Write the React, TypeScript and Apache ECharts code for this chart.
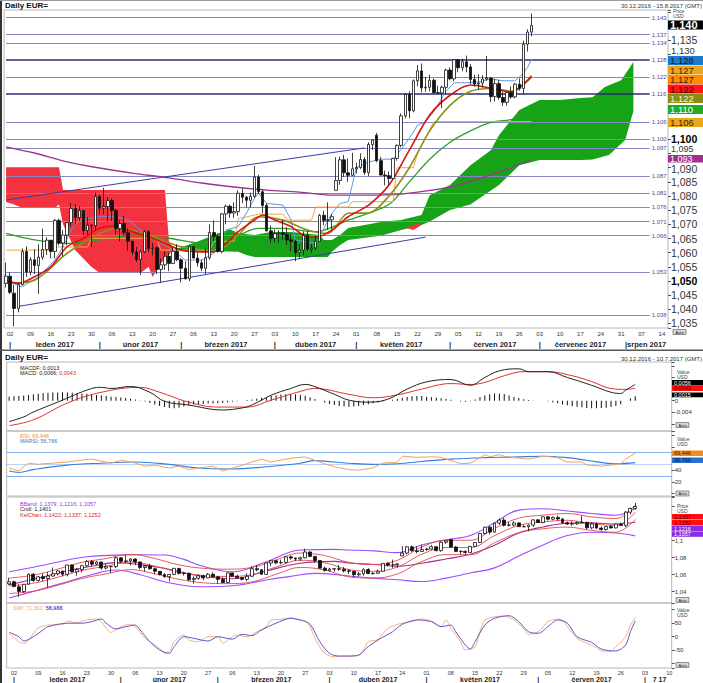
import React, { useEffect, useRef } from "react";
import * as echarts from "echarts";

const FONT = "'Liberation Sans', Arial, sans-serif";

// ---------------- categories ----------------
type Day = { key: string; day: number; month: number; dow: number };
function weekdays(a: number[], b: number[]): Day[] {
  const out: Day[] = [];
  const t = new Date(Date.UTC(a[0], a[1] - 1, a[2]));
  const end = new Date(Date.UTC(b[0], b[1] - 1, b[2]));
  while (t <= end) {
    const dow = t.getUTCDay();
    if (dow !== 0 && dow !== 6) {
      out.push({ key: t.toISOString().slice(0, 10), day: t.getUTCDate(), month: t.getUTCMonth() + 1, dow });
    }
    t.setUTCDate(t.getUTCDate() + 1);
  }
  return out;
}
const mainDays = weekdays([2016, 12, 30], [2017, 8, 15]);
const lowerDays = weekdays([2016, 12, 30], [2017, 7, 10]);
const monthNamesMain: Record<number, string> = { 1: "leden 2017", 2: "únor 2017", 3: "březen 2017", 4: "duben 2017", 5: "květen 2017", 6: "červen 2017", 7: "červenec 2017", 8: "|srpen 2017" };
const monthNamesLower: Record<number, string> = { 1: "leden 2017", 2: "únor 2017", 3: "březen 2017", 4: "duben 2017", 5: "květen 2017", 6: "červen 2017", 7: "7 17" };

// ---------------- price data (EUR=) ----------------
const opens = [1.0492,1.0517,1.0457,1.0403,1.0488,1.0604,1.0532,1.0575,1.0555,1.0584,1.0611,1.0644,1.0604,1.0714,1.0634,1.0662,1.0706,1.0756,1.0724,1.0749,1.0678,1.0697,1.0695,1.0798,1.0757,1.0763,1.0784,1.0749,1.0685,1.0703,1.0670,1.0640,1.0602,1.0576,1.0603,1.0674,1.0615,1.0617,1.0541,1.0557,1.0587,1.0562,1.0605,1.0575,1.0545,1.0508,1.0621,1.0581,1.0564,1.0545,1.0582,1.0671,1.0658,1.0604,1.0737,1.0764,1.0740,1.0745,1.0810,1.0796,1.0785,1.0799,1.0867,1.0815,1.0767,1.0677,1.0651,1.0667,1.0670,1.0664,1.0645,1.0640,1.0600,1.0609,1.0661,1.0613,1.0617,1.0640,1.0732,1.0714,1.0716,1.0820,1.0855,1.0928,1.0882,1.0873,1.0896,1.0901,1.0929,1.0883,1.0982,1.1015,1.0925,1.0874,1.0872,1.0862,1.0933,1.0979,1.1083,1.1159,1.1101,1.1207,1.1242,1.1182,1.1184,1.1209,1.1165,1.1164,1.1184,1.1245,1.1214,1.1281,1.1253,1.1274,1.1256,1.1212,1.1196,1.1199,1.1213,1.1217,1.1151,1.1197,1.1148,1.1131,1.1166,1.1150,1.1195,1.1180,1.1336,1.1379];
const closes = [1.0517,1.0460,1.0403,1.0487,1.0604,1.0532,1.0575,1.0555,1.0584,1.0611,1.0644,1.0604,1.0714,1.0634,1.0662,1.0706,1.0756,1.0724,1.0749,1.0678,1.0697,1.0695,1.0798,1.0757,1.0763,1.0784,1.0749,1.0685,1.0703,1.0670,1.0640,1.0602,1.0576,1.0603,1.0674,1.0615,1.0617,1.0541,1.0557,1.0587,1.0562,1.0605,1.0575,1.0545,1.0508,1.0621,1.0581,1.0564,1.0545,1.0582,1.0671,1.0658,1.0604,1.0737,1.0764,1.0740,1.0745,1.0810,1.0796,1.0785,1.0799,1.0867,1.0815,1.0767,1.0677,1.0651,1.0667,1.0670,1.0664,1.0645,1.0640,1.0600,1.0609,1.0661,1.0613,1.0617,1.0640,1.0732,1.0714,1.0716,1.0727,1.0855,1.0928,1.0882,1.0873,1.0896,1.0901,1.0929,1.0883,1.0982,1.0998,1.0925,1.0874,1.0872,1.0862,1.0933,1.0979,1.1083,1.1159,1.1101,1.1207,1.1242,1.1182,1.1184,1.1209,1.1165,1.1164,1.1184,1.1245,1.1214,1.1281,1.1253,1.1274,1.1256,1.1212,1.1196,1.1199,1.1213,1.1217,1.1151,1.1197,1.1148,1.1131,1.1166,1.1150,1.1195,1.1180,1.1336,1.1379,1.1402];
const lows = [1.0477,1.0454,1.0340,1.0389,1.0484,1.0515,1.0520,1.0525,1.0454,1.0575,1.0592,1.0580,1.0580,1.0626,1.0587,1.0626,1.0693,1.0700,1.0712,1.0660,1.0663,1.0620,1.0677,1.0735,1.0735,1.0710,1.0712,1.0665,1.0640,1.0660,1.0607,1.0592,1.0567,1.0521,1.0598,1.0603,1.0590,1.0524,1.0494,1.0540,1.0535,1.0560,1.0570,1.0495,1.0505,1.0500,1.0580,1.0550,1.0535,1.0525,1.0575,1.0640,1.0600,1.0597,1.0700,1.0723,1.0723,1.0730,1.0775,1.0760,1.0760,1.0794,1.0807,1.0740,1.0675,1.0635,1.0636,1.0636,1.0645,1.0627,1.0605,1.0570,1.0580,1.0590,1.0606,1.0600,1.0610,1.0640,1.0697,1.0681,1.0683,1.0820,1.0840,1.0868,1.0850,1.0870,1.0880,1.0895,1.0875,1.0870,1.0963,1.0919,1.0873,1.0838,1.0838,1.0859,1.0925,1.0972,1.1074,1.1075,1.1096,1.1187,1.1166,1.1168,1.1170,1.1162,1.1160,1.1110,1.1160,1.1209,1.1205,1.1237,1.1241,1.1237,1.1196,1.1187,1.1176,1.1184,1.1206,1.1132,1.1134,1.1140,1.1118,1.1119,1.1144,1.1145,1.1172,1.1160,1.1310,1.1364];
const highs = [1.0565,1.0530,1.0487,1.0492,1.0615,1.0622,1.0585,1.0613,1.0630,1.0685,1.0655,1.0627,1.0719,1.0720,1.0680,1.0708,1.0775,1.0771,1.0763,1.0750,1.0726,1.0700,1.0812,1.0805,1.0829,1.0796,1.0791,1.0755,1.0715,1.0730,1.0684,1.0643,1.0620,1.0610,1.0680,1.0679,1.0635,1.0622,1.0580,1.0605,1.0600,1.0618,1.0630,1.0580,1.0570,1.0625,1.0622,1.0600,1.0575,1.0615,1.0700,1.0714,1.0667,1.0740,1.0770,1.0770,1.0778,1.0820,1.0826,1.0801,1.0812,1.0906,1.0875,1.0823,1.0775,1.0696,1.0682,1.0680,1.0715,1.0690,1.0665,1.0645,1.0630,1.0675,1.0677,1.0630,1.0660,1.0737,1.0748,1.0778,1.0737,1.0937,1.0939,1.0945,1.0933,1.0953,1.0918,1.0951,1.0938,1.0990,1.1000,1.1023,1.0938,1.0890,1.0887,1.0935,1.0982,1.1092,1.1163,1.1170,1.1212,1.1263,1.1268,1.1220,1.1229,1.1215,1.1190,1.1190,1.1250,1.1254,1.1284,1.1283,1.1285,1.1296,1.1266,1.1228,1.1230,1.1227,1.1295,1.1218,1.1213,1.1210,1.1167,1.1168,1.1187,1.1199,1.1215,1.1349,1.1389,1.1445];

// ---------------- main panel overlays ([day index, price]) ----------------
const ma200 = [[0,1.0974],[7,1.0952],[15,1.0921],[23,1.0899],[31,1.0881],[40,1.0864],[48,1.0846],[56,1.0832],[64,1.0821],[72,1.0814],[80,1.0803],[88,1.0803],[97,1.0807],[109,1.0832],[121,1.0885],[129,1.0930]];
const maGreen = [[0,1.0668],[7,1.0645],[15,1.0633],[23,1.0645],[31,1.0662],[40,1.0651],[48,1.0633],[56,1.0656],[62,1.0686],[68,1.0686],[76,1.0674],[84,1.0715],[94,1.0770],[99,1.0850],[104,1.0930],[109,1.0990],[114,1.1030],[119,1.1060],[124,1.1070],[129,1.1100]];
const maRed = [[0,1.0503],[3,1.0492],[7,1.0515],[11,1.0550],[15,1.0621],[19,1.0651],[23,1.0686],[27,1.0694],[31,1.0674],[35,1.0656],[39,1.0633],[43,1.0609],[48,1.0603],[51,1.0603],[54,1.0633],[57,1.0674],[61,1.0715],[63,1.0733],[66,1.0715],[70,1.0692],[73,1.0662],[76,1.0654],[80,1.0680],[84,1.0727],[89,1.0768],[94,1.0839],[99,1.0962],[104,1.1086],[109,1.1156],[114,1.1192],[119,1.1181],[124,1.1167],[129,1.1225]];
const maOlive = [[0,1.0492],[7,1.0503],[15,1.0598],[23,1.0668],[28,1.0686],[35,1.0662],[43,1.0621],[52,1.0609],[57,1.0662],[62,1.0727],[68,1.0715],[74,1.0680],[79,1.0668],[84,1.0739],[89,1.0740],[94,1.0800],[99,1.0900],[104,1.1030],[109,1.1120],[114,1.1170],[119,1.1180],[124,1.1170],[129,1.1220]];
const tenkan = [[0,1.0500],[4,1.0480],[8,1.0515],[12,1.0574],[14,1.0621],[16,1.0680],[18,1.0715],[23,1.0727],[27,1.0727],[30,1.0715],[34,1.0668],[41,1.0609],[44,1.0574],[48,1.0574],[51,1.0598],[54,1.0680],[57,1.0692],[59,1.0739],[61,1.0792],[62,1.0810],[64,1.0774],[68,1.0768],[70,1.0715],[71,1.0645],[76,1.0633],[80,1.0739],[82,1.0774],[84,1.0780],[86,1.0900],[89,1.0920],[92,1.0930],[95,1.0930],[97,1.0965],[99,1.1004],[101,1.1050],[103,1.1063],[105,1.1097],[108,1.1170],[110,1.1200],[113,1.1200],[116,1.1203],[119,1.1214],[122,1.1207],[125,1.1207],[127,1.1234],[128,1.1254],[129,1.1282]];
const kijunLine = [[0,1.0609],[11,1.0609],[12,1.0620],[20,1.0620],[21,1.0651],[37,1.0651],[38,1.0609],[50,1.0609],[51,1.0640],[56,1.0640],[57,1.0720],[62,1.0736],[68,1.0736],[69,1.0715],[75,1.0715],[76,1.0761],[84,1.0761],[85,1.0780],[95,1.0780],[96,1.0900],[100,1.0900],[101,1.0950],[105,1.1063],[129,1.1063]];

// Ichimoku cloud outlines
const redCloudTop = [[0,1.0902],[13,1.0902],[14,1.0821],[39,1.0821],[40,1.0640],[41,1.0615]];
const redCloudBottom = [[0,1.0779],[2,1.0770],[4,1.0758],[12,1.0758],[13,1.0770],[14,1.0700],[17,1.0609],[21,1.0549],[23,1.0528],[33,1.0528],[35,1.0549],[36,1.0514],[38,1.0563],[40,1.0592],[41,1.0615]];
const greenCloudTop = [[41,1.0609],[46,1.0634],[48,1.0645],[51,1.0662],[55,1.0683],[57,1.0669],[61,1.0662],[65,1.0673],[70,1.0673],[77,1.0662],[78,1.0645],[80,1.0645],[82,1.0662],[84,1.0687],[92,1.0708],[97,1.0715],[102,1.0733],[104,1.0803],[109,1.0839],[114,1.0909],[119,1.0962],[121,1.1015],[126,1.1104],[131,1.1139],[136,1.1139],[141,1.1146],[144,1.1149],[147,1.1185],[151,1.1209],[154,1.1273]];
const greenCloudBottom = [[41,1.0609],[57,1.0603],[59,1.0592],[61,1.0585],[79,1.0585],[80,1.0603],[82,1.0627],[84,1.0645],[92,1.0660],[97,1.0680],[102,1.0698],[104,1.0710],[109,1.0751],[114,1.0770],[119,1.0820],[121,1.0839],[126,1.0909],[131,1.0927],[141,1.0927],[144,1.0929],[148,1.0945],[152,1.0998],[154,1.1100]];
const redSliver = [[98,1.0688],[101,1.0702],[102,1.0698],[100,1.0680]];

const levels = [1.143, 1.137, 1.134, 1.128, 1.122, 1.116, 1.106, 1.100, 1.097, 1.087, 1.081, 1.076, 1.071, 1.066, 1.053, 1.038];
const darkLevels = [1.128, 1.116];
const trendLower = [[3, 1.0410], [103, 1.0655]];
const trendUpper = [[0, 1.0786], [88, 1.0970]];
const hiddenPriceLabels = ["1,140", "1,125", "1,120", "1,115", "1,110", "1,105", "1,145"];
const loweredPriceLabels = ["1,090"];

// ---------------- MACD ----------------
const macdLine = [[0,-0.0072],[3,-0.0056],[5,-0.0039],[10,-0.0005],[17,0.0042],[19,0.0046],[21,0.0042],[25,0.0049],[29,0.0029],[32,-0.0002],[37,-0.0015],[44,-0.0032],[48,-0.0025],[50,-0.0015],[54,0.0019],[58,0.0042],[61,0.0056],[64,0.0042],[67,0.0022],[70,0.0002],[74,-0.0005],[78,0.0005],[82,0.0040],[86,0.0065],[91,0.0073],[95,0.0053],[98,0.0080],[101,0.0103],[105,0.0110],[107,0.0100],[111,0.0100],[115,0.0080],[120,0.0053],[124,0.0029],[126,0.0025],[127,0.0036],[129,0.0056]];
const macdSignal = [[0,-0.0086],[5,-0.0066],[12,-0.0008],[19,0.0029],[27,0.0046],[31,0.0029],[37,-0.0005],[43,-0.0022],[49,-0.0022],[54,0.0002],[60,0.0032],[63,0.0042],[70,0.0022],[75,0.0010],[80,0.0020],[85,0.0040],[91,0.0059],[95,0.0056],[98,0.0063],[102,0.0086],[106,0.0100],[111,0.0100],[116,0.0086],[120,0.0066],[124,0.0042],[127,0.0039],[129,0.0043]];
const macdHist = [0.0014,0.0015,0.0016,0.0018,0.0020,0.0022,0.0024,0.0026,0.0027,0.0028,0.0028,0.0029,0.0028,0.0027,0.0026,0.0025,0.0024,0.0022,0.0020,0.0018,0.0016,0.0014,0.0013,0.0011,0.0009,0.0007,0.0004,0.0001,-0.0003,-0.0008,-0.0013,-0.0018,-0.0022,-0.0025,-0.0026,-0.0024,-0.0020,-0.0016,-0.0013,-0.0012,-0.0011,-0.0010,-0.0010,-0.0009,-0.0008,-0.0006,-0.0004,-0.0002,0.0000,0.0002,0.0004,0.0007,0.0010,0.0013,0.0016,0.0019,0.0021,0.0022,0.0023,0.0022,0.0020,0.0017,0.0012,0.0006,0.0000,-0.0006,-0.0011,-0.0015,-0.0018,-0.0020,-0.0021,-0.0020,-0.0018,-0.0015,-0.0012,-0.0009,-0.0006,-0.0003,0.0000,0.0003,0.0006,0.0010,0.0013,0.0015,0.0016,0.0016,0.0014,0.0012,0.0010,0.0008,0.0006,0.0003,0.0000,-0.0003,-0.0004,-0.0002,0.0004,0.0012,0.0018,0.0022,0.0025,0.0025,0.0023,0.0018,0.0013,0.0009,0.0005,0.0002,0.0001,0.0000,0.0000,-0.0002,-0.0005,-0.0009,-0.0013,-0.0016,-0.0019,-0.0021,-0.0023,-0.0025,-0.0026,-0.0026,-0.0025,-0.0024,-0.0022,-0.0018,-0.0012,0.0000,0.0008,0.0015];

// ---------------- RSI ----------------
const rsi = [[0,43.6],[2,38.5],[3,46],[4,52],[6,50],[7,51],[9,52],[12,54],[15,57.4],[17,59],[19,55.5],[21,52],[23,57],[24,56],[26,52],[28,47],[30,48.5],[33,43.6],[35,47],[37,41],[39,43.6],[42,47],[44,38.5],[46,43.6],[49,51],[50,54],[52,59],[54,54],[57,59],[59,61.5],[61,62.6],[63,57],[65,51],[67,46],[70,41],[72,40],[75,44],[77,52],[80,54],[81,64],[84,62],[87,63],[89,62],[91,56.4],[93,51],[95,52],[97,61.5],[98,66.6],[99,63],[101,66.6],[102,64],[104,61.5],[107,59],[110,64],[113,61.5],[115,54],[118,54],[119,48.7],[122,47],[124,48.7],[126,51],[127,59],[128,64],[129,69.4]];
const marsi = [[0,38.5],[2,36],[5,41],[12,48.7],[19,52],[26,54],[33,50],[39,43.6],[46,42],[53,46],[60,52],[63,56.4],[67,54],[70,52],[75,50],[80,51],[85,55],[91,59],[98,61.5],[104,62.5],[110,64],[115,61.5],[119,57],[125,51],[129,53]];

// ---------------- Bollinger / Keltner ----------------
const bbUpper = [[0,1.0635],[6,1.0700],[12,1.0773],[16,1.0812],[22,1.0830],[27,1.0835],[32,1.0832],[36,1.0780],[39,1.0714],[46,1.0635],[53,1.0753],[60,1.0891],[67,1.0898],[70,1.0891],[75,1.0880],[80,1.0860],[85,1.0950],[90,1.1010],[95,1.1060],[100,1.1210],[105,1.1360],[110,1.1375],[115,1.1350],[120,1.1320],[125,1.1300],[129,1.1379]];
const bbMid = [[0,1.0480],[6,1.0560],[12,1.0645],[17,1.0700],[22,1.0742],[27,1.0718],[32,1.0675],[39,1.0587],[46,1.0552],[53,1.0645],[60,1.0735],[67,1.0757],[70,1.0738],[75,1.0720],[80,1.0700],[85,1.0735],[90,1.0785],[95,1.0840],[100,1.0945],[105,1.1090],[110,1.1162],[115,1.1205],[120,1.1210],[125,1.1195],[129,1.1216]];
const bbLower = [[0,1.0326],[6,1.0420],[12,1.0518],[17,1.0600],[22,1.0655],[27,1.0600],[32,1.0518],[39,1.0459],[46,1.0470],[53,1.0538],[58,1.0580],[63,1.0616],[70,1.0585],[75,1.0560],[80,1.0540],[85,1.0520],[90,1.0560],[95,1.0620],[100,1.0680],[105,1.0820],[110,1.0950],[115,1.1060],[120,1.1100],[125,1.1090],[129,1.1057]];
const kcUpper = [[0,1.0560],[5,1.0595],[10,1.0665],[15,1.0745],[20,1.0790],[25,1.0840],[30,1.0790],[35,1.0715],[40,1.0675],[45,1.0665],[50,1.0685],[55,1.0775],[60,1.0855],[65,1.0825],[70,1.0745],[75,1.0720],[80,1.0770],[85,1.0925],[90,1.1005],[95,1.1005],[100,1.1145],[105,1.1265],[110,1.1300],[115,1.1320],[120,1.1280],[125,1.1260],[129,1.1422]];
const kcMid = [[0,1.0470],[5,1.0500],[10,1.0570],[15,1.0650],[20,1.0700],[25,1.0750],[30,1.0700],[35,1.0630],[40,1.0590],[45,1.0580],[50,1.0600],[55,1.0690],[60,1.0770],[65,1.0740],[70,1.0660],[75,1.0640],[80,1.0690],[85,1.0840],[90,1.0920],[95,1.0920],[100,1.1060],[105,1.1180],[110,1.1220],[115,1.1240],[120,1.1200],[125,1.1180],[129,1.1337]];
const kcLower = [[0,1.0380],[5,1.0405],[10,1.0475],[15,1.0555],[20,1.0610],[25,1.0660],[30,1.0610],[35,1.0545],[40,1.0505],[45,1.0495],[50,1.0515],[55,1.0605],[60,1.0685],[65,1.0655],[70,1.0575],[75,1.0560],[80,1.0610],[85,1.0755],[90,1.0835],[95,1.0835],[100,1.0975],[105,1.1095],[110,1.1140],[115,1.1160],[120,1.1120],[125,1.1100],[129,1.1252]];

// ---------------- SMI ----------------
const smiK = [[0,12.6],[2,-18.5],[3,-24],[4,-15],[5,12.6],[6,33],[8,43],[11,45],[12,58],[14,52],[16,62],[18,65.6],[19,55],[21,16],[23,37],[25,46],[26,37],[28,-6],[31,-43],[32,-61.5],[33,-55],[34,-18.5],[36,6.3],[37,-12],[39,-18.5],[41,0],[43,0],[44,-24],[46,0],[47,6],[49,0],[51,18.5],[53,37],[54,62],[56,64],[58,70],[59,64],[61,58],[62,37],[63,-6],[65,-61.5],[67,-74],[70,-71.6],[72,-70],[73,-49],[74,-18.5],[76,-10],[78,31],[81,50],[83,55],[85,65.6],[87,58],[89,37],[90,62],[91,31],[93,-18.5],[94,-49],[96,-37],[97,18.5],[98,62],[100,74],[102,76],[104,62],[106,31],[107,9],[109,18],[111,55.6],[113,65],[114,62],[115,37],[117,-6],[119,-24],[121,-40.7],[122,-53],[124,-53],[125,-37],[127,0],[128,43],[129,71.4]];
const smiD = [[0,16],[2,0],[3,-16],[5,0],[7,25],[8,37],[12,50],[15,50],[17,55.6],[19,65.6],[20,50],[22,28.5],[24,37],[26,43],[27,25],[29,-18.5],[31,-49],[33,-61.5],[34,-37],[36,0],[38,-6],[41,-16],[43,0],[46,-9],[48,9],[50,4],[52,25],[55,50],[58,68],[60,62],[62,46],[64,-18.5],[66,-61.5],[68,-71.6],[70,-71.6],[72,-67.8],[74,-37],[76,-12],[79,18.5],[81,46],[84,62],[87,55.6],[89,37],[91,43],[92,18.5],[94,-31],[95,-45.7],[96,-18.5],[98,43],[100,68],[103,77.8],[105,55.6],[107,18.5],[109,12.6],[111,37],[113,62],[115,50],[117,0],[120,-21],[122,-45.7],[125,-53],[127,-31],[128,18.5],[129,59]];

// ---------------- helpers ----------------
function dayLabels(days: Day[]) {
  return days.map((d) => (d.dow === 1 ? String(d.day).padStart(2, "0") : ""));
}
function monthLabels(days: Day[], names: Record<number, string>) {
  const out = days.map(() => "");
  const groups: Record<number, number[]> = {};
  days.forEach((d, i) => {
    if (names[d.month]) (groups[d.month] = groups[d.month] || []).push(i);
  });
  Object.keys(groups).forEach((k) => {
    const g = groups[+k];
    const name = names[+k];
    if (name.charAt(0) !== "|") out[g[0]] = "|";
    out[Math.round((g[0] + g[g.length - 1]) / 2)] = name;
  });
  return out;
}
const isMult = (v: number, s: number) => Math.abs(v / s - Math.round(v / s)) < 1e-6;
const comma = (s: string) => s.replace(".", ",");

function line(data: number[][], color: string, width: number, xi: number, yi: number, smooth: number | boolean = false, z = 4, extra: any = {}) {
  return { type: "line", xAxisIndex: xi, yAxisIndex: yi, data, symbol: "none", showSymbol: false, smooth, silent: true, z, lineStyle: { color, width }, ...extra };
}
function txt(x: number, y: number, text: string, fill: string, size: number, bold = false, align = "left") {
  return { type: "text", x, y, z: 100, silent: true, style: { text, fill, font: `${bold ? "bold " : ""}${size}px ${FONT}`, textAlign: align, align, textVerticalAlign: "top", verticalAlign: "top" } };
}
function box(x: number, y: number, w: number, h: number, bg: string, text: string, color: string, size: number, bold = false) {
  return {
    type: "group", z: 100, silent: true,
    children: [
      { type: "rect", z: 100, shape: { x, y, width: w, height: h }, style: { fill: bg } },
      { type: "text", z: 101, x: x + 2, y: y + h / 2, style: { text, fill: color, font: `${bold ? "bold " : ""}${size}px ${FONT}`, textVerticalAlign: "middle", verticalAlign: "middle" } },
    ],
  };
}
function autoBtn(x: number, y: number) {
  return {
    type: "group", z: 100, silent: true,
    children: [
      { type: "rect", z: 100, shape: { x, y, width: 13, height: 5 }, style: { fill: "#d8d8d8", stroke: "#555", lineWidth: 0.6 } },
      { type: "text", z: 101, x: x + 6.5, y: y + 2.5, style: { text: "Auto", fill: "#222", font: `4px ${FONT}`, textAlign: "center", align: "center", textVerticalAlign: "middle", verticalAlign: "middle" } },
    ],
  };
}

function buildOption() {
  const mainKeys = mainDays.map((d) => d.key);
  const lowerKeys = lowerDays.map((d) => d.key);
  const mainDayLab = dayLabels(mainDays);
  const mainMonLab = monthLabels(mainDays, monthNamesMain);
  const lowDayLab = dayLabels(lowerDays);
  const lowMonLab = monthLabels(lowerDays, monthNamesLower);
  const candles = opens.map((o, i) => [o, closes[i], lows[i], highs[i]]);

  const gridBase = { show: true, borderColor: "#b8b8b8", borderWidth: 1, backgroundColor: "transparent" };
  const LW = 665, LL = 6.7;

  const catAxis = (grid: number, data: string[], labels: string[] | null, opts: any = {}, offset = 0) => ({
    type: "category", gridIndex: grid, data, boundaryGap: true, position: "bottom", offset,
    axisLine: { show: false }, axisTick: { show: false }, splitLine: { show: false },
    axisLabel: labels
      ? { show: true, hideOverlap: false, interval: (i: number) => !!labels[i], formatter: (_v: string, i: number) => labels[i], ...opts }
      : { show: false },
  });

  const valAxis = (grid: number, min: number, max: number, step: number, fmt: (v: number) => string, size: number) => ({
    type: "value", gridIndex: grid, position: "right", min, max, minInterval: step, maxInterval: step, splitNumber: Math.round((max - min) / step),
    axisLine: { show: false }, splitLine: { show: false },
    axisTick: { show: true, length: 3, lineStyle: { color: "#555", width: 1 } },
    axisLabel: {
      fontSize: size, color: "#333", fontFamily: FONT, margin: 3,
      formatter: (v: number) => (isMult(v, step) ? fmt(v) : ""),
      rich: {
        b: { fontWeight: "bold", fontSize: size, color: "#000", fontFamily: FONT },
        up130: { fontSize: 9.5, color: "#333", fontFamily: FONT, padding: [0, 0, 7.4, 0] },
        up095: { fontSize: 9, color: "#333", fontFamily: FONT, padding: [0, 0, 8.2, 0] },
        dn: { fontSize: size, color: "#333", fontFamily: FONT, padding: [2, 0, 0, 0] },
      },
    },
  });

  const polys = [
    { pts: redCloudTop.concat(redCloudBottom.slice().reverse()), color: "#f2333f" },
    { pts: greenCloudTop.concat(greenCloudBottom.slice().reverse()), color: "#16a316" },
    { pts: redSliver, color: "#f2333f" },
  ];

  const levelLines = levels.map((l) => {
    const dark = darkLevels.indexOf(l) >= 0;
    return [
      {
        coord: [0, l],
        lineStyle: { color: dark ? "#2b2b77" : "#8585c2", width: dark ? 1.6 : 1, type: "solid" },
        label: { show: true, position: "end", formatter: comma(l.toFixed(3)), fontSize: 6, color: "#4b4ba8", fontFamily: FONT, distance: 2 },
      },
      { coord: [158, l] },
    ];
  });
  const trendMark = (t: number[][]) => [
    { coord: t[0], lineStyle: { color: "#3d3da3", width: 1, type: "solid" }, label: { show: false } },
    { coord: t[1] },
  ];

  const lowerGrid = [
    { ...gridBase, left: LL, top: 362, width: LW, height: 69 },
    { ...gridBase, left: LL, top: 431, width: LW, height: 65 },
    { ...gridBase, left: LL, top: 497, width: LW, height: 106 },
    { ...gridBase, left: LL, top: 603, width: LW, height: 65 },
  ];

  const graphics: any[] = [
    { type: "rect", z: 100, silent: true, shape: { x: 0, y: 0, width: 2, height: 683 }, style: { fill: "#333" } },
    { type: "rect", z: 100, silent: true, shape: { x: 0, y: 0, width: 703, height: 1 }, style: { fill: "#999" } },
    txt(5, 1.5, "Daily EUR=", "#111", 8, true),
    txt(702, 2.5, "30.12.2016 - 15.8.2017 (GMT)", "#333", 6, false, "right"),
    txt(673, 8.5, "Price", "#444", 5),
    txt(673, 13.5, "USD", "#444", 5),
    box(668, 20.5, 35, 9, "#000", "1,140", "#fff", 11, true),
    box(668, 56, 35, 9, "#1e78d2", "1,128", "#0a1a3a", 9.5),
    box(668, 65.5, 35, 9, "#e8a818", "1,127", "#3a2600", 9.5),
    box(668, 75, 35, 9, "#ff8c00", "1,127", "#3a1800", 9.5),
    box(668, 84.5, 35, 9, "#ff1414", "1,122", "#3a0000", 9.5),
    box(668, 94, 35, 9, "#8c8c10", "1,122", "#f2f2d8", 9.5),
    box(668, 105, 35, 9, "#22aa22", "1,110", "#fff", 9.5),
    box(668, 118, 35, 9, "#e8a818", "1,106", "#3a2600", 9.5),
    box(668, 155, 35, 7.5, "#a0308a", "1,093", "#fff", 9),
    autoBtn(673, 329.5),
    { type: "rect", z: 100, silent: true, shape: { x: 0, y: 349.5, width: 703, height: 1.5 }, style: { fill: "#555" } },
    txt(5, 353, "Daily EUR=", "#111", 8, true),
    txt(702, 355.5, "30.12.2016 - 10.7.2017 (GMT)", "#333", 6, false, "right"),
    // MACD legend + labels
    txt(20, 364.5, "MACDF: 0,0013", "#222", 5.5),
    { type: "text", z: 100, silent: true, x: 20, y: 369.5, style: { text: "{a|MACD: 0,0066; }{r|0,0043}", font: `5.5px ${FONT}`, rich: { a: { fill: "#222", fontSize: 5.5, fontFamily: FONT }, r: { fill: "#e02020", fontSize: 5.5, fontFamily: FONT } }, textVerticalAlign: "top", verticalAlign: "top" } },
    txt(677, 369, "Value", "#444", 5),
    txt(677, 374.3, "USD", "#444", 5),
    box(672, 380, 31, 5.5, "#000", "0,0056", "#fff", 5.5),
    box(672, 385.5, 31, 5.5, "#ff1010", "0,0043", "#500", 5.5),
    box(672, 392.5, 31, 4.8, "#000", "0,0015", "#fff", 5.5),
    autoBtn(676, 422.5),
    // RSI
    txt(20, 432.5, "RSI: 69,446", "#f0913a", 5.5),
    txt(20, 437.5, "MARSI: 56,766", "#2f74d0", 5.5),
    txt(677, 436, "Value", "#444", 5),
    txt(677, 441.5, "USD", "#444", 5),
    box(672, 450.5, 31, 5.5, "#f08c1e", "69,446", "#3a1a00", 5.5),
    box(672, 457.5, 31, 5.5, "#2a70d0", "56,766", "#001a40", 5.5),
    autoBtn(676, 491),
    // BBand
    txt(20, 500.5, "BBand: 1,1379; 1,1216; 1,1057", "#8a3ee0", 5.5),
    txt(20, 506, "Cndl: 1,1401", "#222", 5.5),
    txt(20, 511.5, "KelChan: 1,1422; 1,1337; 1,1252", "#e02020", 5.5),
    txt(677, 503.5, "Price", "#444", 5),
    txt(677, 508.5, "USD", "#444", 5),
    box(672, 514, 31, 5.5, "#ff1010", "1,1337", "#500", 5.5),
    box(672, 520, 31, 5.5, "#ff1010", "1,1252", "#500", 5.5),
    box(672, 526, 31, 5.5, "#8a2be2", "1,1216", "#fff", 5.5),
    box(672, 531.8, 31, 5, "#8a2be2", "1,1057", "#fff", 5.5),
    autoBtn(676, 597.5),
    // SMI
    { type: "text", z: 100, silent: true, x: 13, y: 604.5, style: { text: "{a|SMI: 71,362; }{b|58,988}", font: `5.5px ${FONT}`, rich: { a: { fill: "#f4a460", fontSize: 5.5, fontFamily: FONT }, b: { fill: "#5a4fc8", fontSize: 5.5, fontFamily: FONT, fontWeight: "bold" } }, textVerticalAlign: "top", verticalAlign: "top" } },
    txt(677, 607.5, "Value", "#444", 5),
    txt(677, 612.5, "USD", "#444", 5),
    autoBtn(676, 662.5),
  ];

  return {
    animation: false,
    backgroundColor: "#fff",
    textStyle: { fontFamily: FONT },
    grid: [{ ...gridBase, left: 4, top: 10, width: 664, height: 318 }, ...lowerGrid],
    xAxis: [
      catAxis(0, mainKeys, mainDayLab, { fontSize: 6, color: "#333", margin: 3, fontFamily: FONT }),
      catAxis(0, mainKeys, mainMonLab, { fontSize: 7.5, fontWeight: "bold", color: "#222", margin: 2, fontFamily: FONT }, 10),
      catAxis(1, lowerKeys, null),
      catAxis(2, lowerKeys, null),
      catAxis(3, lowerKeys, null),
      catAxis(4, lowerKeys, lowDayLab, { fontSize: 5.5, color: "#333", margin: 1.5, fontFamily: FONT }),
      catAxis(4, lowerKeys, lowMonLab, { fontSize: 7, fontWeight: "bold", color: "#222", margin: 1, fontFamily: FONT }, 6.5),
    ],
    yAxis: [
      valAxis(0, 1.0334, 1.1457, 0.005, (v) => {
        const s = comma(v.toFixed(3));
        if (hiddenPriceLabels.indexOf(s) >= 0) return "";
        if (s === "1,130") return `{up130|${s}}`;
        if (s === "1,095") return `{up095|${s}}`;
        if (loweredPriceLabels.indexOf(s) >= 0) return `{dn|${s}}`;
        return s === "1,100" || s === "1,050" ? `{b|${s}}` : s;
      }, 10.5),
      valAxis(1, -0.01045, 0.01334, 0.004, (v) => (Math.abs(v) < 1e-9 ? "0" : Math.abs(v + 0.004) < 1e-9 ? "-0,004" : ""), 6),
      valAxis(2, -4.3, 107.2, 20, (v) => (Math.round(v) === 20 || Math.round(v) === 40 ? String(Math.round(v)) : ""), 6),
      valAxis(3, 1.0267, 1.1514, 0.02, (v) => (v < 1.11 ? comma(String(+v.toFixed(2))) : ""), 6),
      valAxis(4, -115.9, 124.8, 50, (v) => (Math.abs(v) <= 50.5 ? String(Math.round(v)) : ""), 6),
    ],
    series: [
      {
        type: "custom", xAxisIndex: 0, yAxisIndex: 0, silent: true, z: 1, clip: true,
        data: polys.map((p) => [p.pts[0][0], p.pts[0][1]]),
        renderItem: (params: any, api: any) => {
          const p = polys[params.dataIndex];
          return { type: "polygon", shape: { points: p.pts.map((q) => api.coord(q)) }, style: { fill: p.color } };
        },
      },
      line(ma200, "#9a3590", 1.3, 0, 0, 0.3, 3, {
        markLine: { silent: true, symbol: ["none", "none"], animation: false, z: 3, data: [...levelLines, trendMark(trendLower), trendMark(trendUpper)] },
      }),
      line(maGreen, "#2aa02a", 1.3, 0, 0, 0.3),
      line(kijunLine, "#f0a848", 1, 0, 0, false),
      line(tenkan, "#5a9ae0", 1, 0, 0, false),
      line(maOlive, "#8f8f12", 1.6, 0, 0, 0.3),
      line(maRed, "#e01010", 1.6, 0, 0, 0.3),
      {
        type: "candlestick", xAxisIndex: 0, yAxisIndex: 0, data: candles, barWidth: 3, silent: true, z: 6,
        itemStyle: { color: "#fff", color0: "#111", borderColor: "#111", borderColor0: "#111", borderWidth: 0.8 },
      },
      // MACD
      { type: "bar", xAxisIndex: 2, yAxisIndex: 1, data: macdHist, barWidth: 1, silent: true, itemStyle: { color: "#111" }, z: 2 },
      line(macdSignal, "#e03030", 1, 2, 1, 0.4),
      line(macdLine, "#222", 1, 2, 1, 0.4),
      // RSI
      line(marsi, "#3a7fd5", 1.1, 3, 2, 0.4, 4, {
        markLine: {
          silent: true, symbol: ["none", "none"], label: { show: false }, z: 2,
          data: [
            { yAxis: 70, lineStyle: { color: "#86aee8", width: 1.2, type: "solid" } },
            { yAxis: 30, lineStyle: { color: "#86aee8", width: 1.2, type: "solid" } },
            { yAxis: 50, lineStyle: { color: "#5a8fe0", width: 0.8, type: "dotted" } },
          ],
        },
      }),
      line(rsi, "#f2a060", 1, 3, 2, false),
      // BB / Keltner
      line(bbUpper, "#9b4dff", 1.1, 4, 3, 0.4),
      line(bbLower, "#9b4dff", 1.1, 4, 3, 0.4),
      line(bbMid, "#a0309a", 1.1, 4, 3, 0.4),
      line(kcUpper, "#e84848", 0.9, 4, 3, 0.4),
      line(kcMid, "#e84848", 0.9, 4, 3, 0.4),
      line(kcLower, "#e84848", 0.9, 4, 3, 0.4),
      {
        type: "candlestick", xAxisIndex: 4, yAxisIndex: 3, data: candles, barWidth: 3.4, silent: true, z: 6,
        itemStyle: { color: "#fff", color0: "#111", borderColor: "#111", borderColor0: "#111", borderWidth: 0.8 },
      },
      // SMI
      line(smiK, "#f6b080", 1, 5, 4, 0.3),
      line(smiD, "#5e55c8", 1, 5, 4, 0.3),
    ],
    graphic: graphics,
  };
}

export default function App() {
  const ref = useRef<HTMLDivElement>(null);
  useEffect(() => {
    if (!ref.current) return;
    const chart = echarts.init(ref.current, null, { renderer: "svg", width: 703, height: 683 });
    chart.setOption(buildOption() as any);
    return () => chart.dispose();
  }, []);
  return <div ref={ref} style={{ position: "absolute", left: 0, top: 0, width: 703, height: 683, background: "#fff" }} />;
}
